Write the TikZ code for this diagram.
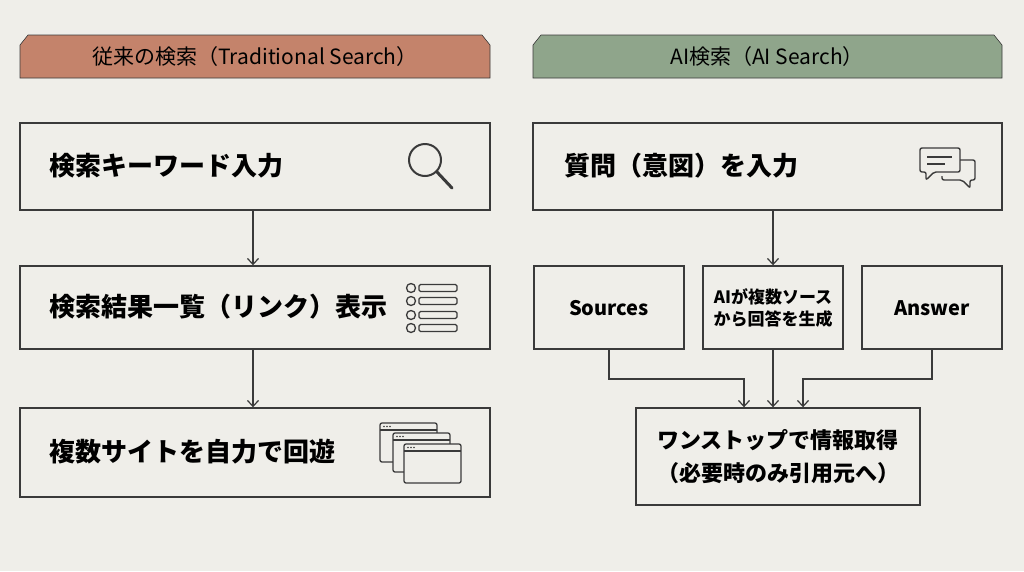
\documentclass[tikz,border=0pt]{standalone}
\usepackage{fontspec}
\setmainfont{Noto Sans CJK JP}
\newfontfamily\hdfont{Noto Sans CJK JP}
\definecolor{bg}{HTML}{EFEEE9}
\definecolor{ln}{HTML}{3A3A3A}
\definecolor{hl}{HTML}{C4836B}
\definecolor{hr}{HTML}{8FA58B}
\begin{document}
\begin{tikzpicture}[x=1pt,y=-1pt,
  box/.style={draw=ln,line width=1.4pt,fill=bg},
  arr/.style={draw=ln,line width=1.2pt,->,>={Straight Barb[length=6pt,width=11pt]}},
  ic/.style={draw=ln,line width=1.5pt},
  big/.style={font=\bfseries\fontsize{26}{29}\selectfont,anchor=west},
  mid/.style={font=\bfseries\fontsize{20}{23}\selectfont},
  sm/.style={font=\bfseries\fontsize{17}{22}\selectfont,align=center}]
\usetikzlibrary{arrows.meta}
\fill[bg] (0,0) rectangle (1024,571);
\useasboundingbox (0,0) rectangle (1024,571);
% headers
\draw[ln,line width=0.6pt,fill=hl] (20,78) -- (20,45) -- (28,35) -- (482,35) -- (490,45) -- (490,78) -- cycle;
\node[font=\hdfont\fontsize{21}{24}\selectfont] (hl) at (255,57) {従来の検索（Traditional Search）};
\draw[ln,line width=0.6pt,fill=hr] (533,78) -- (533,45) -- (541,35) -- (994,35) -- (1002,45) -- (1002,78) -- cycle;
\node[font=\hdfont\fontsize{21}{24}\selectfont] (hr) at (767,57) {AI検索（AI Search）};
% left boxes
\node[box,minimum width=470,minimum height=87] (l1) at (255,166.5) {};
\node[big] at (46,166) {検索キーワード入力};
\node[box,minimum width=470,minimum height=83] (l2) at (255,307.5) {};
\node[big] at (46,307) {検索結果一覧（リンク）表示};
\node[box,minimum width=470,minimum height=89] (l3) at (255,452.5) {};
\node[big] at (46,452) {複数サイトを自力で回遊};
\draw[arr] (253,210) -- (l2.north -| 253,0);
\draw[arr] (253,349) -- (l3.north -| 253,0);
% magnifier
\draw[ic,line width=2pt] (425,160) circle (16);
\draw[ln,line width=3pt,line cap=round] (437,172) -- (452,188);
% list
\foreach \yy in {288,301,315,328}{
  \draw[ic,line width=1.3pt] (411,\yy) circle (4.5);
  \draw[ic,line width=1.3pt,rounded corners=1.5pt] (419,\yy-3.5) rectangle (457,\yy+3.5);}
% windows
\foreach \xx/\yy in {380/423,393/433,404/444}{
  \draw[ic,line width=1.3pt,fill=bg,rounded corners=2pt] (\xx,\yy) rectangle (\xx+57,\yy+39);
  \draw[ic,line width=1.3pt] (\xx,\yy+7) -- (\xx+57,\yy+7);
  \foreach \d in {3,6,9}{\fill[ln] (\xx+\d+1,\yy+3.5) circle (0.9);}}
% right
\node[box,minimum width=469,minimum height=87] (r1) at (767.5,166.5) {};
\node[big] at (561,166) {質問（意図）を入力};
% chat icon
\draw[ic,line width=1.4pt,rounded corners=2pt] (920,148) -- (960,148) -- (960,172) -- (934,172) -- (926,180) -- (926,172) -- (920,172) -- cycle;
\draw[ic,line width=1.4pt] (927,157) -- (952,157) (927,164) -- (945,164);
\draw[ic,line width=1.4pt,rounded corners=2pt] (960,160) -- (975,160) -- (975,180) -- (970,180) -- (970,188) -- (962,180) -- (942,180) -- (942,176);
\node[box,minimum width=150,minimum height=83] (src) at (609,307.5) {};
\node[mid] at (609,308) {Sources};
\node[box,minimum width=140,minimum height=83] (gen) at (773,307.5) {};
\node[sm] at (773,308) {AIが複数ソース\\から回答を生成};
\node[box,minimum width=140,minimum height=83] (ans) at (932,307.5) {};
\node[mid] at (932,308) {Answer};
\node[box,minimum width=284,minimum height=97] (out) at (778,456.5) {};
\node[font=\bfseries\fontsize{22}{33}\selectfont,align=center] at (778,457) {ワンストップで情報取得\\（必要時のみ引用元へ）};
\draw[arr] (773,210) -- (gen.north -| 773,0);
\draw[arr] (src.south -| 609,0) |- (744,379) -- (out.north -| 744,0);
\draw[arr] (gen.south -| 773,0) -- (out.north -| 773,0);
\draw[arr] (ans.south -| 932,0) |- (803,379) -- (out.north -| 803,0);
\end{tikzpicture}
\end{document}
